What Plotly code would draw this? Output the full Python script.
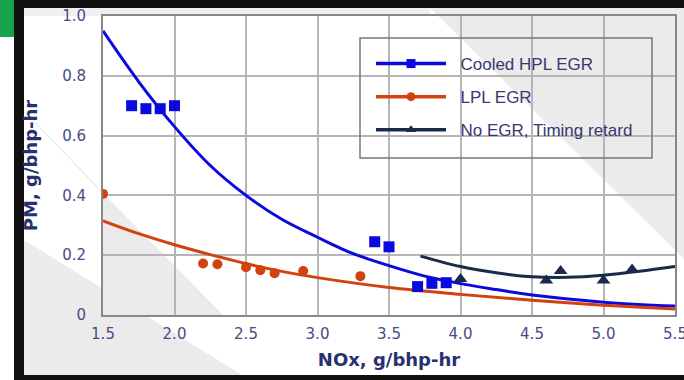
import plotly.graph_objects as go

# ---- data ----
hpl_x = [1.7, 1.8, 1.9, 2.0, 3.4, 3.5, 3.7, 3.8, 3.9]
hpl_y = [0.70, 0.69, 0.69, 0.70, 0.245, 0.228, 0.095, 0.106, 0.108]
hpl_fit_x = [1.5, 1.75, 2.0, 2.25, 2.5, 2.75, 3.0, 3.25, 3.5, 3.75, 4.0, 4.25, 4.5, 5.0, 5.5]
hpl_fit_y = [0.95, 0.78, 0.63, 0.50, 0.40, 0.32, 0.26, 0.205, 0.165, 0.13, 0.105, 0.085, 0.067, 0.043, 0.03]

lpl_x = [1.5, 2.2, 2.3, 2.5, 2.6, 2.7, 2.9, 3.3]
lpl_y = [0.405, 0.172, 0.170, 0.160, 0.150, 0.140, 0.147, 0.130]
lpl_fit_x = [1.5, 1.75, 2.0, 2.25, 2.5, 2.75, 3.0, 3.5, 4.0, 4.5, 5.0, 5.5]
lpl_fit_y = [0.315, 0.272, 0.235, 0.202, 0.172, 0.146, 0.125, 0.092, 0.069, 0.049, 0.033, 0.02]

noegr_x = [4.0, 4.6, 4.7, 5.0, 5.2]
noegr_y = [0.12, 0.115, 0.147, 0.115, 0.152]
noegr_fit_x = [3.72, 4.0, 4.25, 4.5, 4.75, 5.0, 5.25, 5.5]
noegr_fit_y = [0.197, 0.162, 0.141, 0.128, 0.126, 0.133, 0.146, 0.162]

x_ticks = [1.5, 2.0, 2.5, 3.0, 3.5, 4.0, 4.5, 5.0, 5.5]
x_labels = ["1.5", "2.0", "2.5", "3.0", "3.5", "4.0", "4.5", "5.0", "5.5"]
y_ticks = [0, 0.2, 0.4, 0.6, 0.8, 1.0]
y_labels = ["0", "0.2", "0.4", "0.6", "0.8", "1.0"]

names = ["Cooled HPL EGR", "LPL EGR", "No EGR, Timing retard"]
colors = ["#0a0ae0", "#d2420e", "#1a2a48"]
symbols = ["square", "circle", "triangle-up"]

W, H = 684, 380
ML, MR, MT, MB = 103, 9, 16, 65
PW, PH = W - ML - MR, H - MT - MB


def px(x, y):
    return (x - ML) / PW, (H - MB - y) / PH


def path(points, close=True):
    s = ""
    for i, (x, y) in enumerate(points):
        a, b = px(x, y)
        s += ("M" if i == 0 else "L") + f"{a:.4f},{b:.4f} "
    return s + ("Z" if close else "")


fig = go.Figure()
fits = [(hpl_fit_x, hpl_fit_y), (lpl_fit_x, lpl_fit_y), (noegr_fit_x, noegr_fit_y)]
pts = [(hpl_x, hpl_y), (lpl_x, lpl_y), (noegr_x, noegr_y)]
sizes = [11, 10, 12]
for i in range(3):
    fig.add_trace(go.Scatter(x=fits[i][0], y=fits[i][1], mode="lines",
                             line=dict(color=colors[i], width=3, shape="spline"),
                             showlegend=False, hoverinfo="skip"))
for i in range(3):
    fig.add_trace(go.Scatter(x=pts[i][0], y=pts[i][1], mode="markers",
                             marker=dict(color=colors[i], size=sizes[i], symbol=symbols[i]),
                             showlegend=False))
for i in range(3):
    fig.add_trace(go.Scatter(x=[None], y=[None], mode="lines+markers",
                             name="\u00a0\u00a0" + names[i],
                             legendgroup=f"g{i}",
                             line=dict(color=colors[i], width=3.5),
                             marker=dict(color=colors[i], size=9, symbol=symbols[i])))

gray = "#ebebeb"
dark = "#111111"
shapes = [
    # grey corner regions of the background
    dict(type="path", xref="paper", yref="paper", layer="below", line_width=0,
         fillcolor=gray, path=path([(103, 193), (223, 315), (103, 315)])),
    dict(type="path", xref="paper", yref="paper", layer="below", line_width=0,
         fillcolor=gray, path=path([(24, 240), (250, 380), (24, 380)])),
    dict(type="path", xref="paper", yref="paper", layer="below",
         line=dict(color="#dddddd", width=1), path=path([(28, 115), (103, 193)], close=False)),
    dict(type="path", xref="paper", yref="paper", layer="below", line_width=0,
         fillcolor=gray, path=path([(430, 8), (684, 8), (684, 259)])),
    dict(type="rect", xref="paper", yref="paper", layer="below", line_width=0,
         fillcolor="#f0f0f0", x0=px(24, 0)[0], x1=px(430, 0)[0], y0=px(0, 16)[1], y1=px(0, 8)[1]),
    # frame of the picture
    dict(type="rect", xref="paper", yref="paper", layer="below", line_width=0,
         fillcolor=dark, x0=px(14, 0)[0], x1=px(684, 0)[0], y0=px(0, 8)[1], y1=px(0, 0)[1]),
    dict(type="rect", xref="paper", yref="paper", layer="below", line_width=0,
         fillcolor=dark, x0=px(14, 0)[0], x1=px(24, 0)[0], y0=px(0, 380)[1], y1=px(0, 0)[1]),
    dict(type="rect", xref="paper", yref="paper", layer="below", line_width=0,
         fillcolor=dark, x0=px(14, 0)[0], x1=px(684, 0)[0], y0=px(0, 380)[1], y1=px(0, 375)[1]),
    dict(type="rect", xref="paper", yref="paper", layer="below", line_width=0,
         fillcolor="#16a34a", x0=px(0, 0)[0], x1=px(14, 0)[0], y0=px(0, 37)[1], y1=px(0, 0)[1]),
    # legend box
    dict(type="rect", xref="paper", yref="paper", layer="above",
         line=dict(color="#777777", width=1.5), fillcolor="rgba(0,0,0,0)",
         x0=px(360, 0)[0], x1=px(652, 0)[0], y0=px(0, 158)[1], y1=px(0, 38)[1]),
]

lx, ly = px(371, 46)
fig.update_layout(
    width=W, height=H,
    margin=dict(l=ML, r=MR, t=MT, b=MB),
    paper_bgcolor="white", plot_bgcolor="rgba(0,0,0,0)",
    font=dict(family="Liberation Sans, Arial, sans-serif", size=14, color="#4a4a86"),
    shapes=shapes,
    xaxis=dict(range=[1.5, 5.5], tickvals=x_ticks, ticktext=x_labels, automargin=False,
               ticklabeloverflow="allow",
               showgrid=True, gridcolor="#b5b5b5", gridwidth=1.5,
               showline=True, linecolor="#888888", linewidth=2, mirror=True,
               zeroline=False, ticks="", ticklabelstandoff=4,
               tickfont=dict(family="DejaVu Sans, sans-serif", size=15, color="#4a4a86"),
               title=dict(text="<b>NOx, g/bhp-hr</b>", standoff=11,
                          font=dict(family="DejaVu Sans, sans-serif", size=18, color="#283070"))),
    yaxis=dict(range=[0, 1.0], tickvals=y_ticks, ticktext=y_labels, automargin=False,
               ticklabeloverflow="allow",
               showgrid=True, gridcolor="#b5b5b5", gridwidth=1.5,
               showline=True, linecolor="#888888", linewidth=2, mirror=True,
               zeroline=False, ticks="", ticklabelstandoff=12,
               tickfont=dict(family="DejaVu Sans, sans-serif", size=15, color="#4a4a86"),
               title=dict(text="<b>PM, g/bhp-hr</b>", standoff=20,
                          font=dict(family="DejaVu Sans, sans-serif", size=18, color="#283070"))),
    legend=dict(x=lx, y=ly, xanchor="left", yanchor="top",
                bgcolor="rgba(0,0,0,0)", borderwidth=0,
                itemwidth=70, tracegroupgap=8,
                font=dict(size=17, color="#383870")),
)

fig.write_html("out.html")
